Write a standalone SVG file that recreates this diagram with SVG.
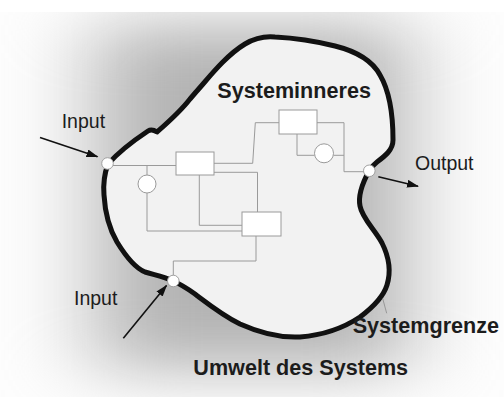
<svg xmlns="http://www.w3.org/2000/svg" width="504" height="397" viewBox="0 0 504 397">
<style>
.lbl{font-family:"Liberation Sans",Arial,Helvetica,sans-serif;font-size:19.5px;fill:#1c1c1c}
.bold{font-family:"Liberation Sans",Arial,Helvetica,sans-serif;font-size:21.6px;font-weight:bold;fill:#1c1c1c}
.wire{fill:none;stroke:#9a9a9a;stroke-width:1}
.box{fill:#fff;stroke:#9a9a9a;stroke-width:1}
.port{fill:#fff;stroke:#a0a0a0;stroke-width:1}
.arrow{fill:none;stroke:#111;stroke-width:1.6}
</style>
<defs>
<filter id="blur" x="-1" y="-1" width="3" height="3" color-interpolation-filters="sRGB"><feGaussianBlur stdDeviation="45 30"/></filter>
<clipPath id="bgclip"><rect x="0" y="12" width="504" height="385"/></clipPath>
<marker id="ah" markerWidth="12" markerHeight="10" refX="11" refY="4" orient="auto" markerUnits="userSpaceOnUse"><path d="M0,0 L12,4 L0,8 Z" fill="#111"/></marker>
</defs>
<rect x="0" y="0" width="504" height="397" fill="#fff"/>
<g id="background" clip-path="url(#bgclip)">
<rect x="0" y="12" width="504" height="385" fill="#fdfdfd"/>
<rect x="95" y="25" width="314" height="345" fill="#b4b4b4" filter="url(#blur)"/>
</g>
<g id="system">
<path d="M108,164 C116,155 130,143 148,131 C151,129 154,130 157,132 C165,125 180,112 190,99 L196,92 C207,80 225,56 245,44 C255,38 265,36 275,37 C295,38 315,41 335,46 C355,51 372,60 380,75 C390,92 393,115 393,140 C393,150 385,156 377,162 C373,165 371,168 369,171 C363,182 358,196 360,206 C362,218 375,230 382,243 C389,257 391,272 387,285 C383,298 372,308 360,317 C345,327 325,335 300,337 C280,338 260,333 240,324 C222,315 207,303 195,294 C188,289 180,284 173,281 C165,277 155,275 145,272 C135,268 125,255 117,242 C110,230 105,212 104,195 C103,183 105,172 108,164 Z" fill="#f2f2f2" stroke="#111" stroke-width="5" stroke-linejoin="round"/>
</g>
<g id="connectors">
<polyline class="wire" points="108,165.5 176,165.5"/>
<polyline class="wire" points="147,165.5 147,175"/>
<polyline class="wire" points="147,193 147,231 242,231"/>
<polyline class="wire" points="214,163.3 252.7,163.3 255.3,122.7 279,122.7"/>
<polyline class="wire" points="214,172.3 257.5,172.3 257.5,212"/>
<polyline class="wire" points="199.3,175 199.3,225.3 242,225.3"/>
<polyline class="wire" points="256,236 256,261 173.3,261 173.3,281"/>
<polyline class="wire" points="317,122.7 344,122.7 344,171.7 369,171.7"/>
<polyline class="wire" points="297,134 297,155.3 314.5,155.3"/>
<polyline class="wire" points="333.5,155.3 344,155.3"/>
<line x1="382.7" y1="298.5" x2="386.7" y2="313.3" stroke="#8a8a8a" stroke-width="0.8"/>
<line class="arrow" x1="40" y1="137.5" x2="97.5" y2="156.8" marker-end="url(#ah)"/>
<line class="arrow" x1="378.3" y1="176.7" x2="418" y2="186.3" marker-end="url(#ah)"/>
<line class="arrow" x1="123.3" y1="338.3" x2="166.5" y2="285.5" marker-end="url(#ah)"/>
</g>
<g id="rectA"><rect class="box" x="176" y="152" width="38" height="23"/></g>
<g id="rectB"><rect class="box" x="279" y="110" width="38" height="24"/></g>
<g id="rectC"><rect class="box" x="242" y="212" width="39" height="24"/></g>
<g id="circleD"><circle class="box" cx="147" cy="184" r="9"/></g>
<g id="circleE"><circle class="box" cx="324" cy="153.3" r="9.5"/></g>
<g id="inputNode1"><circle class="port" cx="107.5" cy="163.5" r="5.8"/></g>
<g id="outputNode"><circle class="port" cx="369.3" cy="170.8" r="5.8"/></g>
<g id="inputNode2"><circle class="port" cx="173.3" cy="281" r="5.8"/></g>
<g id="labels">
<text class="lbl" x="61.7" y="128.3">Input</text>
<text class="lbl" x="415" y="170">Output</text>
<text class="lbl" x="74" y="305">Input</text>
<text class="bold" x="217.3" y="98.3">Systeminneres</text>
<text class="bold" x="352.7" y="333.3">Systemgrenze</text>
<text class="bold" x="193.3" y="375">Umwelt des Systems</text>
</g>
</svg>
